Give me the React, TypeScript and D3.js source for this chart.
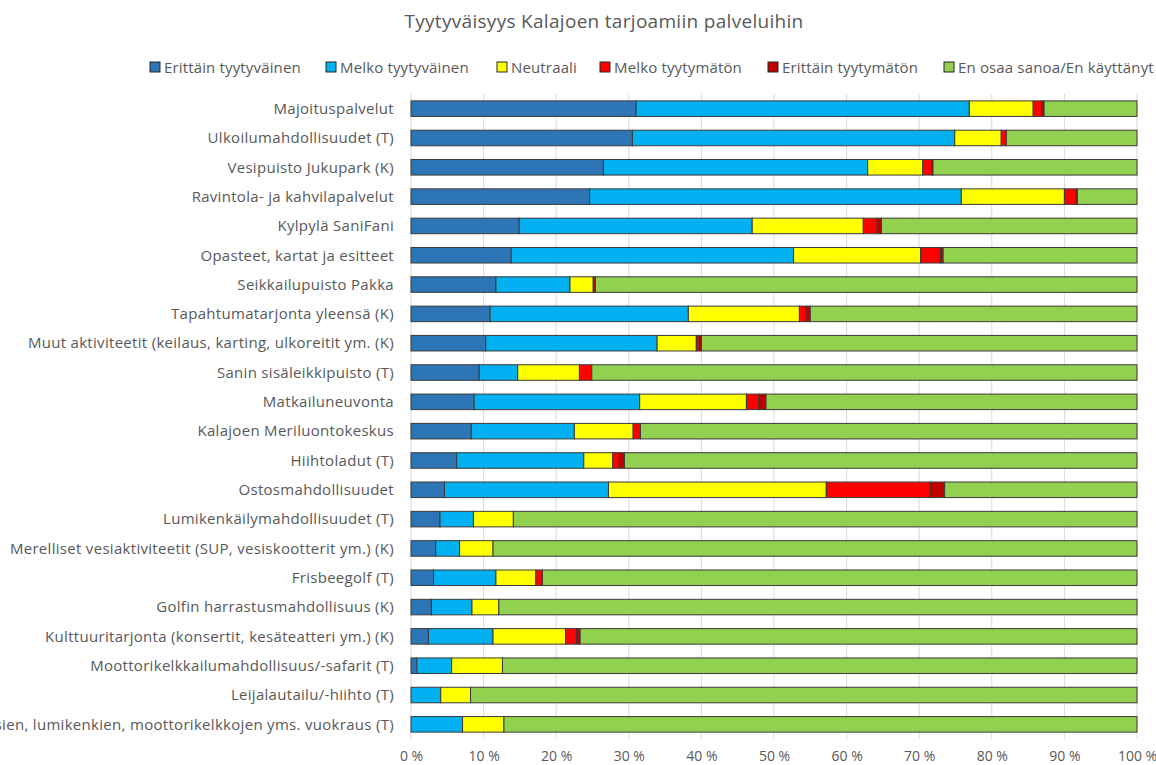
import React, { useRef, useEffect } from 'react'
import { select, scaleLinear, scaleBand, stack, axisBottom } from 'd3'

const categories = [
  'Majoituspalvelut',
  'Ulkoilumahdollisuudet (T)',
  'Vesipuisto Jukupark (K)',
  'Ravintola- ja kahvilapalvelut',
  'Kylpylä SaniFani',
  'Opasteet, kartat ja esitteet',
  'Seikkailupuisto Pakka',
  'Tapahtumatarjonta yleensä (K)',
  'Muut aktiviteetit (keilaus, karting, ulkoreitit ym. (K)',
  'Sanin sisäleikkipuisto (T)',
  'Matkailuneuvonta',
  'Kalajoen Meriluontokeskus',
  'Hiihtoladut (T)',
  'Ostosmahdollisuudet',
  'Lumikenkäilymahdollisuudet (T)',
  'Merelliset vesiaktiviteetit (SUP, vesiskootterit ym.) (K)',
  'Frisbeegolf (T)',
  'Golfin harrastusmahdollisuus (K)',
  'Kulttuuritarjonta (konsertit, kesäteatteri ym.) (K)',
  'Moottorikelkkailumahdollisuus/-safarit (T)',
  'Leijalautailu/-hiihto (T)',
  'Suksien, lumikenkien, moottorikelkkojen yms. vuokraus (T)',
]

const seriesNames = [
  'Erittäin tyytyväinen',
  'Melko tyytyväinen',
  'Neutraali',
  'Melko tyytymätön',
  'Erittäin tyytymätön',
  'En osaa sanoa/En käyttänyt',
]
const seriesColors = ['#2E75B6', '#00B0F0', '#FFFF00', '#FF0000', '#C00000', '#92D050']

// percentages, one value per category
const erittainTyytyvainen = [31.0, 30.5, 26.5, 24.6, 14.9, 13.8, 11.7, 10.9, 10.3, 9.4, 8.7, 8.3, 6.3, 4.6, 4.0, 3.4, 3.1, 2.8, 2.4, 0.8, 0, 0]
const melkoTyytyvainen = [45.9, 44.4, 36.4, 51.2, 32.1, 38.9, 10.2, 27.3, 23.6, 5.3, 22.8, 14.2, 17.5, 22.6, 4.6, 3.3, 8.6, 5.6, 8.9, 4.8, 4.1, 7.1]
const neutraali = [8.8, 6.4, 7.6, 14.2, 15.3, 17.5, 3.2, 15.3, 5.4, 8.5, 14.7, 8.1, 4.0, 30.0, 5.5, 4.6, 5.5, 3.7, 10.0, 7.0, 4.1, 5.7]
const melkoTyytymaton = [1.2, 0.7, 1.2, 1.6, 1.9, 2.7, 0, 0.9, 0.4, 1.7, 1.7, 1.0, 0.9, 14.3, 0, 0, 0.9, 0, 1.5, 0, 0, 0]
const erittainTyytymaton = [0.3, 0, 0.2, 0.2, 0.6, 0.4, 0.3, 0.6, 0.3, 0, 1.0, 0, 0.7, 2.0, 0, 0, 0, 0, 0.5, 0, 0, 0]
const enOsaaSanoa = [12.8, 18.0, 28.1, 8.2, 35.2, 26.7, 74.6, 45.0, 60.0, 75.1, 51.1, 68.4, 70.6, 26.5, 85.9, 88.7, 81.9, 87.9, 76.7, 87.4, 91.8, 87.2]

const xTicks = [0, 10, 20, 30, 40, 50, 60, 70, 80, 90, 100]

const W = 1156
const H = 765
const FONT = '"Open Sans", "Noto Sans", sans-serif'
const GREY = '#595959'

function StackedBars() {
  const svgRef = useRef<SVGSVGElement>(null)

  useEffect(() => {
    const svg = select(svgRef.current)
    svg.selectAll('*').remove()

    const rows = categories.map((c, i) => {
      const vals = [erittainTyytyvainen[i], melkoTyytyvainen[i], neutraali[i], melkoTyytymaton[i], erittainTyytymaton[i], enOsaaSanoa[i]]
      const total = vals.reduce((a, b) => a + b, 0)
      const row: any = { cat: c }
      seriesNames.forEach((s, j) => { row[s] = (vals[j] / total) * 100 })
      return row
    })

    const x = scaleLinear().domain([0, 100]).range([411, 1137])
    const y = scaleBand().domain(categories).range([94, 739]).paddingInner(0.47).paddingOuter(0.235)

    // title
    svg.append('text')
      .attr('x', 604).attr('y', 28)
      .attr('text-anchor', 'middle')
      .attr('font-family', FONT).attr('font-size', 19)
      .attr('letter-spacing', 0.3)
      .attr('fill', GREY)
      .text('Tyytyväisyys Kalajoen tarjoamiin palveluihin')

    // legend
    const legendX = [150, 326, 497, 600, 768, 944]
    const lg = svg.append('g')
    seriesNames.forEach((s, i) => {
      lg.append('rect')
        .attr('x', legendX[i]).attr('y', 62).attr('width', 10).attr('height', 10)
        .attr('fill', seriesColors[i]).attr('stroke', '#262626').attr('stroke-width', 1)
      lg.append('text')
        .attr('x', legendX[i] + 14).attr('y', 72.5)
        .attr('font-family', FONT).attr('font-size', 15)
        .attr('letter-spacing', 0.15)
        .attr('fill', GREY)
        .text(s)
    })

    // gridlines
    svg.append('g')
      .selectAll('line')
      .data(xTicks)
      .join('line')
      .attr('x1', d => x(d)).attr('x2', d => x(d))
      .attr('y1', 94).attr('y2', 739)
      .attr('stroke', '#d9d9d9').attr('stroke-width', 1)

    // x axis
    const xAxis = axisBottom(x).tickValues(xTicks).tickSize(0).tickFormat(d => `${d} %`)
    const ax = svg.append('g').attr('transform', 'translate(0,748)').call(xAxis)
    ax.select('.domain').remove()
    ax.selectAll('text')
      .attr('font-family', FONT).attr('font-size', 14)
      .attr('fill', GREY)

    // category labels
    svg.append('g')
      .selectAll('text')
      .data(categories)
      .join('text')
      .attr('x', 394)
      .attr('y', d => (y(d) as number) + y.bandwidth() / 2)
      .attr('dy', '0.35em')
      .attr('text-anchor', 'end')
      .attr('font-family', FONT).attr('font-size', 15)
      .attr('letter-spacing', 0.3)
      .attr('fill', GREY)
      .text(d => d)

    // bars
    const stacked = stack<any>().keys(seriesNames)(rows)
    svg.append('g')
      .selectAll('g')
      .data(stacked)
      .join('g')
      .attr('fill', (d, i) => seriesColors[i])
      .selectAll('rect')
      .data(d => d.filter(p => p[1] - p[0] > 0))
      .join('rect')
      .attr('x', p => x(p[0]))
      .attr('width', p => x(p[1]) - x(p[0]))
      .attr('y', p => y(p.data.cat) as number)
      .attr('height', y.bandwidth())
      .attr('stroke', '#3a3a3a')
      .attr('stroke-width', 1)
  }, [])

  return (
    <svg ref={svgRef} width={W} height={H} style={{ position: 'absolute', left: 0, top: 0, background: '#fff' }} />
  )
}

export default function App() {
  return <StackedBars />
}
